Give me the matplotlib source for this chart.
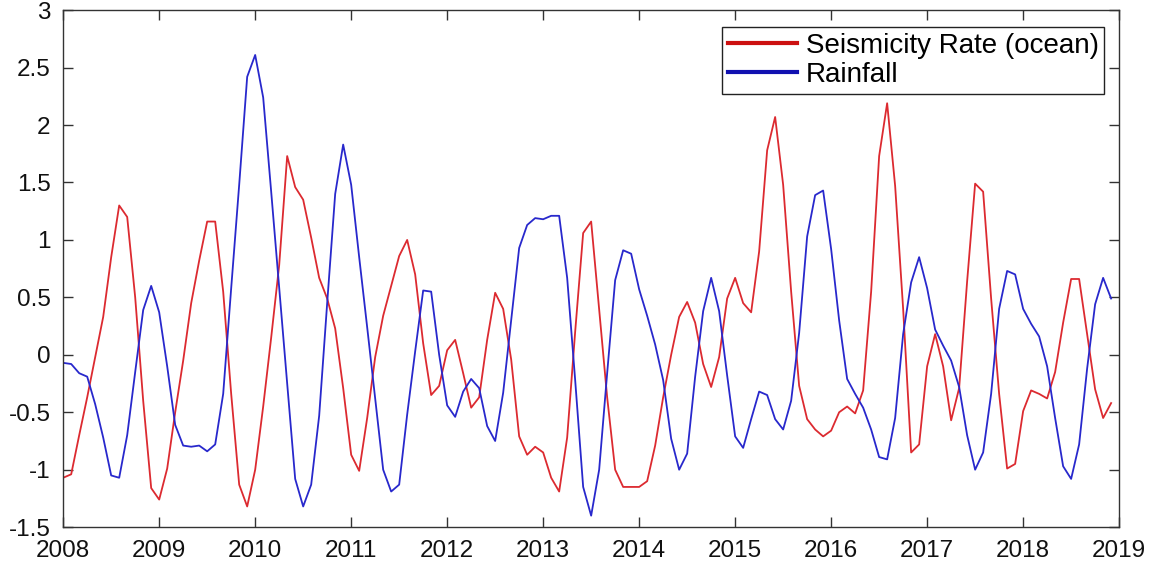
import numpy as np
import matplotlib
matplotlib.use("Agg")
import matplotlib.pyplot as plt

plt.rcParams['font.family'] = ['Liberation Sans', 'DejaVu Sans']
plt.rcParams['axes.unicode_minus'] = False

# monthly values, Jan 2008 .. Dec 2018
seismicity = [
    -1.07, -1.04, -0.70, -0.37, -0.02, 0.33, 0.85, 1.30, 1.20, 0.50, -0.40, -1.16,
    -1.26, -0.99, -0.50, -0.05, 0.45, 0.82, 1.16, 1.16, 0.55, -0.34, -1.13, -1.32,
    -1.00, -0.45, 0.15, 0.78, 1.73, 1.46, 1.35, 1.02, 0.67, 0.49, 0.23, -0.29,
    -0.87, -1.01, -0.55, -0.02, 0.34, 0.60, 0.86, 1.00, 0.70, 0.10, -0.35, -0.27,
    0.04, 0.13, -0.16, -0.46, -0.37, 0.13, 0.54, 0.40, -0.04, -0.71, -0.87, -0.80,
    -0.85, -1.07, -1.19, -0.72, 0.20, 1.06, 1.16, 0.40, -0.37, -1.00, -1.15, -1.15,
    -1.15, -1.10, -0.79, -0.37, 0.00, 0.33, 0.46, 0.28, -0.08, -0.28, -0.02, 0.49,
    0.67, 0.45, 0.37, 0.90, 1.78, 2.07, 1.48, 0.55, -0.27, -0.56, -0.65, -0.71,
    -0.66, -0.50, -0.45, -0.51, -0.31, 0.55, 1.73, 2.19, 1.47, 0.40, -0.85, -0.78,
    -0.10, 0.18, -0.10, -0.57, -0.29, 0.64, 1.49, 1.42, 0.49, -0.34, -0.99, -0.95,
    -0.49, -0.31, -0.34, -0.38, -0.15, 0.28, 0.66, 0.66, 0.18, -0.30, -0.55, -0.42,
]

rainfall = [
    -0.07, -0.08, -0.16, -0.19, -0.43, -0.72, -1.05, -1.07, -0.70, -0.15, 0.39, 0.60,
    0.37, -0.10, -0.61, -0.79, -0.80, -0.79, -0.84, -0.78, -0.34, 0.58, 1.48, 2.42,
    2.61, 2.24, 1.42, 0.58, -0.25, -1.08, -1.32, -1.13, -0.53, 0.45, 1.40, 1.83,
    1.48, 0.85, 0.24, -0.38, -1.00, -1.19, -1.13, -0.52, 0.03, 0.56, 0.55, 0.00,
    -0.44, -0.54, -0.32, -0.21, -0.29, -0.62, -0.75, -0.33, 0.30, 0.93, 1.13, 1.19,
    1.18, 1.21, 1.21, 0.67, -0.22, -1.15, -1.40, -1.00, -0.16, 0.65, 0.91, 0.88,
    0.57, 0.34, 0.09, -0.22, -0.73, -1.00, -0.86, -0.19, 0.38, 0.67, 0.38, -0.18,
    -0.71, -0.81, -0.56, -0.32, -0.35, -0.56, -0.65, -0.40, 0.19, 1.03, 1.39, 1.43,
    0.92, 0.30, -0.21, -0.34, -0.46, -0.65, -0.89, -0.91, -0.55, 0.18, 0.63, 0.85,
    0.58, 0.22, 0.08, -0.05, -0.28, -0.70, -1.00, -0.85, -0.34, 0.40, 0.73, 0.70,
    0.40, 0.27, 0.16, -0.10, -0.55, -0.97, -1.08, -0.78, -0.12, 0.44, 0.67, 0.49,
]

t = 2008 + np.arange(len(seismicity)) / 12.0

year_ticks = list(range(2008, 2020))
y_ticks = [-1.5, -1, -0.5, 0, 0.5, 1, 1.5, 2, 2.5, 3]
y_labels = ['-1.5', '-1', '-0.5', '0', '0.5', '1', '1.5', '2', '2.5', '3']

fig = plt.figure(figsize=(11.49, 5.65), dpi=100)
ax = fig.add_axes([0.055, 0.067, 0.919, 0.915])

ax.plot(t, seismicity, color='#dc2a30', lw=1.3, label='Seismicity Rate (ocean)')
ax.plot(t, rainfall, color='#2828cc', lw=1.3, label='Rainfall')

ax.set_xlim(2008, 2019)
ax.set_ylim(-1.5, 3)
ax.set_xticks(year_ticks)
ax.set_xticklabels([str(y) for y in year_ticks])
ax.set_yticks(y_ticks)
ax.set_yticklabels(y_labels)
ax.tick_params(direction='in', length=7, width=1, top=True, right=True,
               labelsize=17.5, colors='#333333', labelcolor='#111111')
ax.tick_params(axis='x', pad=9)
ax.tick_params(axis='y', pad=9)
for s in ax.spines.values():
    s.set_color('#333333')
    s.set_linewidth(1)

leg = ax.legend(loc='upper right', bbox_to_anchor=(0.986, 0.967), borderaxespad=0,
                fontsize=20, handlelength=2.5, handletextpad=0.3, labelspacing=0.12,
                borderpad=0.2, fancybox=False, framealpha=1, edgecolor='#222222')
leg.get_frame().set_linewidth(1)
for h, c in zip(leg.get_lines(), ['#cc1010', '#1010b0']):
    h.set_linewidth(3)
    h.set_color(c)

fig.savefig('out.png', dpi=100)
